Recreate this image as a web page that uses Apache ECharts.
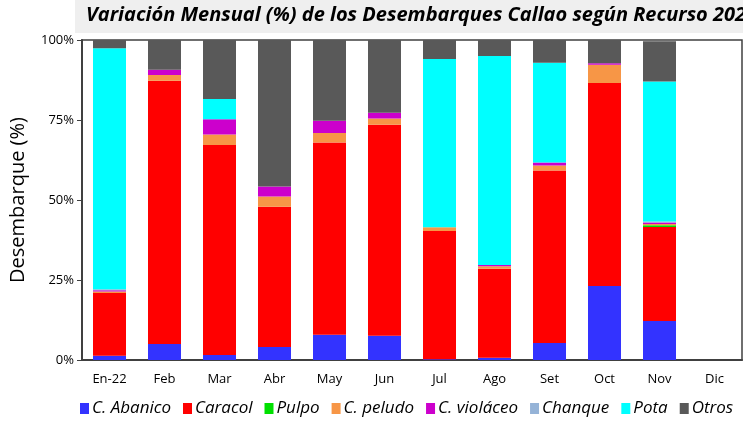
<!DOCTYPE html>
<html>
<head>
<meta charset="utf-8">
<script src="https://cdn.jsdelivr.net/npm/echarts@6/dist/echarts.min.js"></script>
<style>
html, body { margin: 0; padding: 0; background: #fff; }
#chart { width: 743px; height: 423px; }
</style>
</head>
<body>
<div id="chart"></div>
<script>
// meses
var meses = ['En-22', 'Feb', 'Mar', 'Abr', 'May', 'Jun', 'Jul', 'Ago', 'Set', 'Oct', 'Nov', 'Dic'];
var yTicks = ['0%', '25%', '50%', '75%', '100%'];

// participación (%) por recurso
var abanico  = [1.3, 5.0, 1.6, 4.1, 7.9, 7.6, 0.2, 0.7, 5.3, 23.1, 12.2, null];
var caracol  = [19.6, 82.3, 65.6, 43.8, 60.1, 65.9, 40.1, 27.8, 53.9, 63.5, 29.4, null];
var pulpo    = [0, 0, 0, 0, 0, 0, 0, 0, 0, 0, 0.5, null];
var peludo   = [0.5, 1.8, 3.3, 3.2, 2.9, 2.0, 1.2, 0.8, 1.6, 5.7, 0.4, null];
var violaceo = [0.4, 1.6, 4.7, 3.1, 3.9, 1.8, 0, 0.4, 0.9, 0.4, 0.5, null];
var chanque  = [0.3, 0, 0, 0, 0, 0, 0, 0, 0, 0, 0.3, null];
var pota     = [75.3, 0, 6.4, 0, 0, 0, 52.6, 65.3, 31.2, 0, 43.7, null];
var otros    = [2.6, 9.3, 18.4, 45.8, 25.2, 22.7, 5.9, 5.0, 7.1, 7.3, 12.6, null];

var nombres = ['C. Abanico', 'Caracol', 'Pulpo', 'C. peludo', 'C. violáceo', 'Chanque', 'Pota', 'Otros'];
var colores = ['#3333ff', '#ff0000', '#00e000', '#f79646', '#cc00cc', '#95b3d7', '#00ffff', '#595959'];
var valores = [abanico, caracol, pulpo, peludo, violaceo, chanque, pota, otros];

var chart = echarts.init(document.getElementById('chart'));

var series = [];
for (var i = 0; i < nombres.length; i++) {
    series.push({
        name: nombres[i],
        type: 'bar',
        stack: 'total',
        barWidth: '60%',
        itemStyle: { color: colores[i] },
        data: valores[i]
    });
}

var option = {
    animation: false,
    graphic: [
        { type: 'rect', z: -1, shape: { x: 75, y: 0, width: 668, height: 33 }, style: { fill: '#efefef' } }
    ],
    title: {
        text: 'Variación Mensual (%) de los Desembarques Callao según Recurso 2022',
        left: 86,
        top: 5,
        padding: 0,
        textStyle: {
            fontFamily: 'Open Sans',
            fontStyle: 'italic',
            fontWeight: 'bold',
            fontSize: 20,
            color: '#000'
        }
    },
    legend: {
        data: nombres,
        bottom: 1,
        left: 75,
        itemWidth: 9,
        itemHeight: 11,
        itemGap: 12,
        icon: 'rect',
        textStyle: {
            fontFamily: 'Open Sans',
            fontStyle: 'italic',
            fontSize: 17,
            color: '#000',
            padding: [0, 0, 0, -2]
        }
    },
    grid: {
        left: 80,
        right: 1,
        top: 40,
        bottom: 63,
        show: true,
        borderColor: '#404040',
        borderWidth: 1.5
    },
    xAxis: {
        type: 'category',
        data: meses,
        axisLine: { lineStyle: { color: '#404040', width: 2 } },
        axisTick: { alignWithLabel: true, length: 4, lineStyle: { color: '#404040' } },
        axisLabel: { fontFamily: 'Open Sans', fontSize: 13, color: '#000', margin: 13 }
    },
    yAxis: {
        type: 'value',
        min: 0,
        max: 100,
        interval: 25,
        name: 'Desembarque (%)',
        nameLocation: 'middle',
        nameGap: 54,
        nameTextStyle: { fontFamily: 'Open Sans', fontSize: 20, color: '#000' },
        axisLine: { show: true, lineStyle: { color: '#404040', width: 2 } },
        axisTick: { show: true, length: 5, lineStyle: { color: '#404040' } },
        splitLine: { show: false },
        axisLabel: {
            fontFamily: 'Open Sans',
            fontSize: 13,
            color: '#000',
            margin: 8,
            formatter: function (v) { return yTicks[v / 25]; }
        }
    },
    series: series
};

chart.setOption(option);
</script>
</body>
</html>
